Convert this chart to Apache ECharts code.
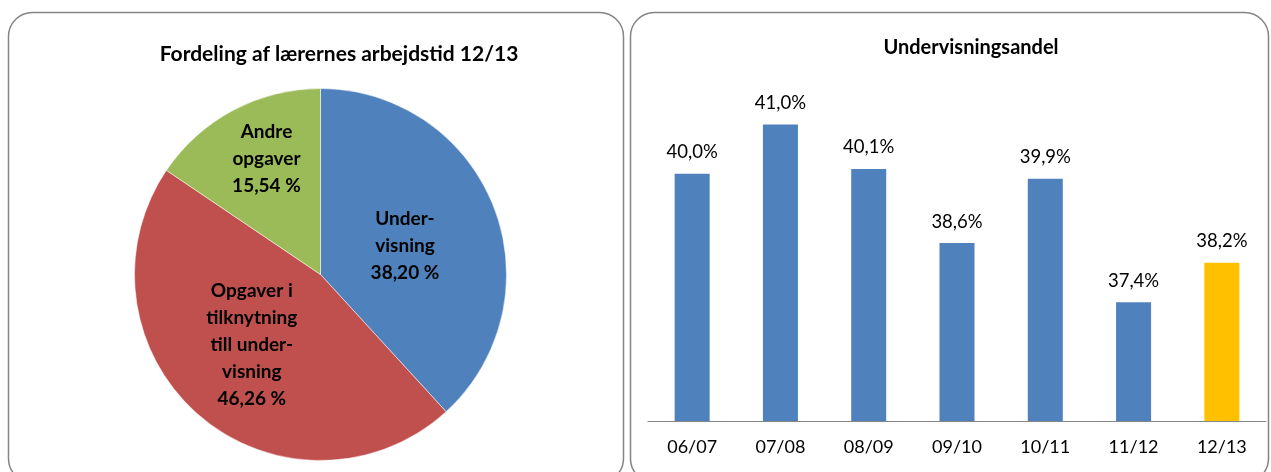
<!DOCTYPE html>
<html>
<head>
<meta charset="utf-8">
<script src="https://cdn.jsdelivr.net/npm/echarts@6/dist/echarts.min.js"></script>
<style>
  html, body { margin: 0; padding: 0; background: #fff; }
  #chart { width: 1271px; height: 472px; }
</style>
</head>
<body>
<div id="chart"></div>
<script>
// pie: fordeling af arbejdstid 12/13
const pieNames = ["Under-\nvisning", "Opgaver i\ntilknytning\ntill under-\nvisning", "Andre\nopgaver"];
const pieValues = [38.20, 46.26, 15.54];
const pieColors = ["#4F81BD", "#C0504D", "#9BBB59"];

// bars: undervisningsandel
const years = ["06/07", "07/08", "08/09", "09/10", "10/11", "11/12", "12/13"];
const shares = [40.0, 41.0, 40.1, 38.6, 39.9, 37.4, 38.2];
const barColors = ["#4F81BD", "#4F81BD", "#4F81BD", "#4F81BD", "#4F81BD", "#4F81BD", "#FFC000"];

const font = "Lato, 'Open Sans', sans-serif";
const comma = (v, d) => v.toFixed(d).replace(".", ",");

// small nudges for the inside pie labels
const labelShift = [[-5, 6], [-6, -2], [-9, -31]];

const chart = echarts.init(document.getElementById("chart"));

chart.setOption({
  animation: false,
  textStyle: { fontFamily: font },
  graphic: [
    {
      type: "rect",
      shape: { x: 8.5, y: 12.5, width: 615, height: 470, r: 24 },
      style: { fill: "none", stroke: "#858585", lineWidth: 1.5 }
    },
    {
      type: "rect",
      shape: { x: 630.5, y: 12.5, width: 638, height: 470, r: 24 },
      style: { fill: "none", stroke: "#858585", lineWidth: 1.5 }
    }
  ],
  title: [
    {
      text: "Fordeling af lærernes arbejdstid 12/13",
      left: 334, top: 39, textAlign: "center",
      textStyle: { fontFamily: font, fontSize: 21, fontWeight: "bold", color: "#000" }
    },
    {
      text: "Undervisningsandel",
      left: 966, top: 33, textAlign: "center",
      textStyle: { fontFamily: font, fontSize: 20, fontWeight: "bold", color: "#000" }
    }
  ],
  grid: { left: 648, right: 5, top: 75, bottom: 51 },
  xAxis: {
    type: "category",
    data: years,
    axisLine: { lineStyle: { color: "#868686", width: 1 } },
    axisTick: { length: 7, lineStyle: { color: "#868686" } },
    axisLabel: { color: "#000", fontSize: 18, fontFamily: font, margin: 17 }
  },
  yAxis: {
    type: "value",
    min: 35, max: 42,
    show: false
  },
  series: [
    {
      type: "pie",
      center: [320.5, 274.5],
      radius: 186,
      startAngle: 90,
      clockwise: true,
      silent: true,
      itemStyle: { borderColor: "#fff", borderWidth: 0.5 },
      label: {
        position: "inside",
        color: "#000",
        fontSize: 19,
        fontWeight: "bold",
        fontFamily: font,
        lineHeight: 27,
        formatter: p => p.name + "\n" + comma(p.value, 2) + " %"
      },
      labelLine: { show: false },
      labelLayout: p => ({ dx: labelShift[p.dataIndex][0], dy: labelShift[p.dataIndex][1] }),
      data: pieValues.map((v, i) => ({
        name: pieNames[i],
        value: v,
        itemStyle: { color: pieColors[i] }
      }))
    },
    {
      type: "bar",
      barWidth: 35,
      label: {
        show: true,
        position: "top",
        distance: 12,
        color: "#000",
        fontSize: 18.5,
        fontFamily: font,
        formatter: p => comma(p.value, 1) + "%"
      },
      data: shares.map((v, i) => ({ value: v, itemStyle: { color: barColors[i] } }))
    }
  ]
});
</script>
</body>
</html>
